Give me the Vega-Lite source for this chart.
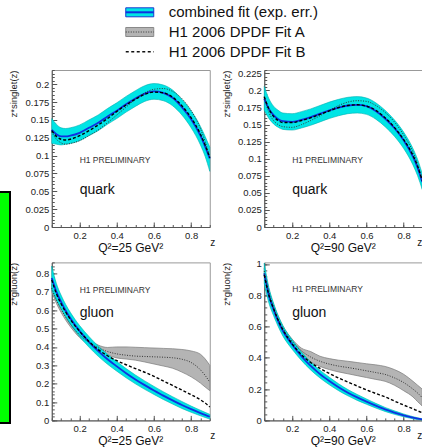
{
"$schema": "https://vega.github.io/schema/vega-lite/v6.json",
"padding": {"left": -3, "top": 0, "right": 0, "bottom": 0},
"background": "white",
"config": {
  "font": "Liberation Sans",
  "view": {"stroke": "#999", "strokeWidth": 1},
  "axis": {"labelFont": "Liberation Sans", "labelFontSize": 9.5, "labelColor": "#222", "titleFont": "Liberation Sans", "titleFontWeight": "normal", "titleColor": "#222", "titleFontSize": 9.5, "domainColor": "#555", "tickColor": "#555", "grid": false, "tickSize": -5, "labelPadding": 8, "labelFlush": false, "labelBound": false, "labelOverlap": false},
  "title": {"font": "Liberation Sans", "fontWeight": "normal", "color": "#111"}
},
"datasets": {
  "legend": [
    {"series": "combined fit (exp. err.)"},
    {"series": "H1 2006 DPDF Fit A"},
    {"series": "H1 2006 DPDF Fit B"}
  ],
  "curves": [
    {"p":"q25","z":0.05,"c":0.136,"lo":0.117,"hi":0.152,"a":0.133,"b":0.135},
    {"p":"q25","z":0.075,"c":0.130,"lo":0.116,"hi":0.144,"a":0.123,"b":0.127},
    {"p":"q25","z":0.1,"c":0.127,"lo":0.115,"hi":0.139,"a":0.118,"b":0.123},
    {"p":"q25","z":0.125,"c":0.127,"lo":0.116,"hi":0.138,"a":0.116,"b":0.122},
    {"p":"q25","z":0.15,"c":0.128,"lo":0.117,"hi":0.139,"a":0.117,"b":0.123},
    {"p":"q25","z":0.2,"c":0.132,"lo":0.121,"hi":0.143,"a":0.121,"b":0.128},
    {"p":"q25","z":0.25,"c":0.139,"lo":0.128,"hi":0.150,"a":0.128,"b":0.135},
    {"p":"q25","z":0.3,"c":0.146,"lo":0.135,"hi":0.157,"a":0.136,"b":0.143},
    {"p":"q25","z":0.35,"c":0.155,"lo":0.144,"hi":0.166,"a":0.146,"b":0.152},
    {"p":"q25","z":0.4,"c":0.163,"lo":0.152,"hi":0.174,"a":0.157,"b":0.162},
    {"p":"q25","z":0.45,"c":0.172,"lo":0.161,"hi":0.183,"a":0.168,"b":0.171},
    {"p":"q25","z":0.5,"c":0.180,"lo":0.169,"hi":0.191,"a":0.179,"b":0.179},
    {"p":"q25","z":0.55,"c":0.187,"lo":0.176,"hi":0.198,"a":0.188,"b":0.186},
    {"p":"q25","z":0.6,"c":0.190,"lo":0.179,"hi":0.201,"a":0.193,"b":0.189},
    {"p":"q25","z":0.65,"c":0.188,"lo":0.177,"hi":0.199,"a":0.194,"b":0.188},
    {"p":"q25","z":0.7,"c":0.181,"lo":0.170,"hi":0.192,"a":0.190,"b":0.182},
    {"p":"q25","z":0.75,"c":0.168,"lo":0.157,"hi":0.179,"a":0.180,"b":0.170},
    {"p":"q25","z":0.8,"c":0.151,"lo":0.139,"hi":0.163,"a":0.163,"b":0.153},
    {"p":"q25","z":0.85,"c":0.128,"lo":0.115,"hi":0.141,"a":0.138,"b":0.130},
    {"p":"q25","z":0.875,"c":0.113,"lo":0.099,"hi":0.127,"a":0.120,"b":0.115},
    {"p":"q25","z":0.9,"c":0.096,"lo":0.078,"hi":0.112,"a":0.098,"b":0.097},

    {"p":"q90","z":0.05,"c":0.188,"lo":0.171,"hi":0.206,"a":0.190,"b":0.191},
    {"p":"q90","z":0.075,"c":0.173,"lo":0.159,"hi":0.188,"a":0.168,"b":0.173},
    {"p":"q90","z":0.1,"c":0.164,"lo":0.151,"hi":0.177,"a":0.156,"b":0.162},
    {"p":"q90","z":0.125,"c":0.158,"lo":0.146,"hi":0.171,"a":0.150,"b":0.156},
    {"p":"q90","z":0.15,"c":0.155,"lo":0.143,"hi":0.167,"a":0.147,"b":0.153},
    {"p":"q90","z":0.2,"c":0.154,"lo":0.142,"hi":0.166,"a":0.146,"b":0.153},
    {"p":"q90","z":0.25,"c":0.157,"lo":0.145,"hi":0.169,"a":0.150,"b":0.156},
    {"p":"q90","z":0.3,"c":0.161,"lo":0.149,"hi":0.173,"a":0.156,"b":0.160},
    {"p":"q90","z":0.35,"c":0.166,"lo":0.154,"hi":0.178,"a":0.163,"b":0.165},
    {"p":"q90","z":0.4,"c":0.171,"lo":0.159,"hi":0.183,"a":0.171,"b":0.170},
    {"p":"q90","z":0.45,"c":0.175,"lo":0.163,"hi":0.187,"a":0.178,"b":0.175},
    {"p":"q90","z":0.5,"c":0.178,"lo":0.166,"hi":0.190,"a":0.183,"b":0.178},
    {"p":"q90","z":0.55,"c":0.179,"lo":0.167,"hi":0.191,"a":0.185,"b":0.179},
    {"p":"q90","z":0.6,"c":0.177,"lo":0.165,"hi":0.189,"a":0.184,"b":0.177},
    {"p":"q90","z":0.65,"c":0.170,"lo":0.158,"hi":0.182,"a":0.178,"b":0.171},
    {"p":"q90","z":0.7,"c":0.159,"lo":0.147,"hi":0.171,"a":0.168,"b":0.160},
    {"p":"q90","z":0.75,"c":0.145,"lo":0.133,"hi":0.157,"a":0.154,"b":0.146},
    {"p":"q90","z":0.8,"c":0.127,"lo":0.115,"hi":0.139,"a":0.135,"b":0.128},
    {"p":"q90","z":0.85,"c":0.103,"lo":0.091,"hi":0.115,"a":0.110,"b":0.105},
    {"p":"q90","z":0.875,"c":0.087,"lo":0.075,"hi":0.099,"a":0.092,"b":0.089},
    {"p":"q90","z":0.9,"c":0.066,"lo":0.055,"hi":0.078,"a":0.070,"b":0.068},

    {"p":"g25","z":0.05,"c":0.775,"lo":0.71,"hi":0.84,"a":0.72,"alo":0.70,"ahi":0.74,"b":0.765},
    {"p":"g25","z":0.075,"c":0.700,"lo":0.655,"hi":0.745,"a":0.655,"alo":0.637,"ahi":0.673,"b":0.690},
    {"p":"g25","z":0.1,"c":0.645,"lo":0.608,"hi":0.682,"a":0.605,"alo":0.588,"ahi":0.622,"b":0.635},
    {"p":"g25","z":0.125,"c":0.597,"lo":0.563,"hi":0.631,"a":0.562,"alo":0.546,"ahi":0.578,"b":0.590},
    {"p":"g25","z":0.15,"c":0.556,"lo":0.524,"hi":0.588,"a":0.525,"alo":0.510,"ahi":0.540,"b":0.550},
    {"p":"g25","z":0.2,"c":0.486,"lo":0.456,"hi":0.516,"a":0.465,"alo":0.451,"ahi":0.479,"b":0.485},
    {"p":"g25","z":0.25,"c":0.428,"lo":0.399,"hi":0.457,"a":0.425,"alo":0.412,"ahi":0.438,"b":0.430},
    {"p":"g25","z":0.3,"c":0.377,"lo":0.349,"hi":0.405,"a":0.395,"alo":0.380,"ahi":0.410,"b":0.385},
    {"p":"g25","z":0.35,"c":0.333,"lo":0.306,"hi":0.360,"a":0.375,"alo":0.356,"ahi":0.397,"b":0.352},
    {"p":"g25","z":0.4,"c":0.294,"lo":0.268,"hi":0.320,"a":0.362,"alo":0.340,"ahi":0.400,"b":0.325},
    {"p":"g25","z":0.45,"c":0.257,"lo":0.232,"hi":0.282,"a":0.355,"alo":0.334,"ahi":0.400,"b":0.303},
    {"p":"g25","z":0.5,"c":0.223,"lo":0.199,"hi":0.247,"a":0.350,"alo":0.328,"ahi":0.398,"b":0.282},
    {"p":"g25","z":0.55,"c":0.192,"lo":0.169,"hi":0.215,"a":0.348,"alo":0.318,"ahi":0.396,"b":0.262},
    {"p":"g25","z":0.6,"c":0.163,"lo":0.141,"hi":0.185,"a":0.346,"alo":0.307,"ahi":0.394,"b":0.240},
    {"p":"g25","z":0.65,"c":0.135,"lo":0.114,"hi":0.156,"a":0.344,"alo":0.296,"ahi":0.392,"b":0.215},
    {"p":"g25","z":0.7,"c":0.109,"lo":0.089,"hi":0.129,"a":0.341,"alo":0.284,"ahi":0.390,"b":0.190},
    {"p":"g25","z":0.75,"c":0.084,"lo":0.065,"hi":0.103,"a":0.333,"alo":0.263,"ahi":0.386,"b":0.165},
    {"p":"g25","z":0.8,"c":0.061,"lo":0.044,"hi":0.078,"a":0.315,"alo":0.237,"ahi":0.378,"b":0.140},
    {"p":"g25","z":0.85,"c":0.040,"lo":0.025,"hi":0.055,"a":0.275,"alo":0.203,"ahi":0.360,"b":0.112},
    {"p":"g25","z":0.875,"c":0.030,"lo":0.016,"hi":0.044,"a":0.245,"alo":0.182,"ahi":0.335,"b":0.095},
    {"p":"g25","z":0.9,"c":0.020,"lo":0.007,"hi":0.033,"a":0.208,"alo":0.162,"ahi":0.300,"b":0.073},

    {"p":"g90","z":0.05,"c":0.940,"lo":0.875,"hi":1.005,"a":0.955,"alo":0.935,"ahi":0.975,"b":0.930},
    {"p":"g90","z":0.075,"c":0.800,"lo":0.750,"hi":0.850,"a":0.820,"alo":0.802,"ahi":0.838,"b":0.800},
    {"p":"g90","z":0.1,"c":0.710,"lo":0.670,"hi":0.750,"a":0.725,"alo":0.708,"ahi":0.742,"b":0.715},
    {"p":"g90","z":0.125,"c":0.635,"lo":0.600,"hi":0.670,"a":0.650,"alo":0.634,"ahi":0.666,"b":0.640},
    {"p":"g90","z":0.15,"c":0.573,"lo":0.540,"hi":0.606,"a":0.590,"alo":0.575,"ahi":0.605,"b":0.580},
    {"p":"g90","z":0.2,"c":0.485,"lo":0.455,"hi":0.515,"a":0.505,"alo":0.490,"ahi":0.520,"b":0.490},
    {"p":"g90","z":0.25,"c":0.410,"lo":0.383,"hi":0.437,"a":0.445,"alo":0.428,"ahi":0.462,"b":0.420},
    {"p":"g90","z":0.3,"c":0.348,"lo":0.322,"hi":0.374,"a":0.405,"alo":0.375,"ahi":0.440,"b":0.370},
    {"p":"g90","z":0.35,"c":0.296,"lo":0.271,"hi":0.321,"a":0.378,"alo":0.345,"ahi":0.410,"b":0.332},
    {"p":"g90","z":0.4,"c":0.252,"lo":0.228,"hi":0.276,"a":0.360,"alo":0.325,"ahi":0.395,"b":0.300},
    {"p":"g90","z":0.45,"c":0.212,"lo":0.190,"hi":0.234,"a":0.347,"alo":0.310,"ahi":0.385,"b":0.271},
    {"p":"g90","z":0.5,"c":0.177,"lo":0.157,"hi":0.197,"a":0.338,"alo":0.298,"ahi":0.378,"b":0.245},
    {"p":"g90","z":0.55,"c":0.147,"lo":0.128,"hi":0.166,"a":0.328,"alo":0.286,"ahi":0.370,"b":0.220},
    {"p":"g90","z":0.6,"c":0.120,"lo":0.103,"hi":0.137,"a":0.317,"alo":0.274,"ahi":0.362,"b":0.195},
    {"p":"g90","z":0.65,"c":0.094,"lo":0.079,"hi":0.109,"a":0.306,"alo":0.262,"ahi":0.355,"b":0.172},
    {"p":"g90","z":0.7,"c":0.070,"lo":0.057,"hi":0.083,"a":0.294,"alo":0.250,"ahi":0.345,"b":0.150},
    {"p":"g90","z":0.75,"c":0.050,"lo":0.039,"hi":0.061,"a":0.272,"alo":0.225,"ahi":0.325,"b":0.124},
    {"p":"g90","z":0.8,"c":0.032,"lo":0.023,"hi":0.041,"a":0.242,"alo":0.190,"ahi":0.295,"b":0.098},
    {"p":"g90","z":0.85,"c":0.017,"lo":0.010,"hi":0.024,"a":0.200,"alo":0.150,"ahi":0.250,"b":0.074},
    {"p":"g90","z":0.875,"c":0.011,"lo":0.005,"hi":0.017,"a":0.175,"alo":0.120,"ahi":0.225,"b":0.061},
    {"p":"g90","z":0.9,"c":0.006,"lo":0.002,"hi":0.010,"a":0.145,"alo":0.092,"ahi":0.200,"b":0.049}
  ]
},
"spacing": -3.25,
"hconcat": [
  {
    "spacing": 0,
    "vconcat": [
      {"width": 12, "height": 191, "view": {"stroke": null}, "data": {"values": []}, "mark": "point", "encoding": {}},
      {"width": 12, "height": 231, "view": {"stroke": null}, "data": {"values": [{"box": "frame"}]}, "mark": {"type": "rect", "fill": "#00ff00", "stroke": "#000000", "strokeWidth": 2}, "encoding": {}}
    ]
  },
  {
    "spacing": 3,
    "vconcat": [
      {
        "width": 400, "height": 64,
        "view": {"stroke": null},
        "data": {"name": "legend"},
        "layer": [
          {"transform": [{"filter": "datum.series == 'combined fit (exp. err.)'"}],
           "mark": {"type": "rect", "fill": "#00e5e5", "stroke": "#1a3ad0", "strokeWidth": 1},
           "encoding": {
             "x": {"datum": 0.185, "type": "quantitative", "scale": {"domain": [0, 1]}, "axis": null},
             "x2": {"datum": 0.255},
             "y": {"field": "series", "type": "nominal", "sort": null, "scale": {"type": "band", "domain": ["combined fit (exp. err.)", "H1 2006 DPDF Fit A", "H1 2006 DPDF Fit B"], "paddingInner": 0.543, "paddingOuter": 0.396}, "axis": null}}},
          {"transform": [{"filter": "datum.series == 'combined fit (exp. err.)'"}],
           "mark": {"type": "rule", "stroke": "#1030e0", "strokeWidth": 2},
           "encoding": {
             "x": {"datum": 0.185, "type": "quantitative", "scale": {"domain": [0, 1]}, "axis": null},
             "x2": {"datum": 0.255},
             "y": {"field": "series", "type": "nominal", "sort": null, "axis": null}}},
          {"transform": [{"filter": "datum.series == 'H1 2006 DPDF Fit A'"}],
           "mark": {"type": "rect", "fill": "#b4b4b4", "stroke": "#888888", "strokeWidth": 1},
           "encoding": {
             "x": {"datum": 0.185, "type": "quantitative", "scale": {"domain": [0, 1]}, "axis": null},
             "x2": {"datum": 0.255},
             "y": {"field": "series", "type": "nominal", "sort": null, "axis": null}}},
          {"transform": [{"filter": "datum.series == 'H1 2006 DPDF Fit A'"}],
           "mark": {"type": "rule", "stroke": "#333333", "strokeWidth": 1, "strokeDash": [1, 1.5]},
           "encoding": {
             "x": {"datum": 0.185, "type": "quantitative", "scale": {"domain": [0, 1]}, "axis": null},
             "x2": {"datum": 0.255},
             "y": {"field": "series", "type": "nominal", "sort": null, "axis": null}}},
          {"transform": [{"filter": "datum.series == 'H1 2006 DPDF Fit B'"}],
           "mark": {"type": "rule", "stroke": "#111111", "strokeWidth": 1.4, "strokeDash": [3, 2.5]},
           "encoding": {
             "x": {"datum": 0.185, "type": "quantitative", "scale": {"domain": [0, 1]}, "axis": null},
             "x2": {"datum": 0.255},
             "y": {"field": "series", "type": "nominal", "sort": null, "axis": null}}},
          {"mark": {"type": "text", "align": "left", "baseline": "middle", "fontSize": 15, "color": "#111"},
           "encoding": {
             "x": {"datum": 0.2925, "type": "quantitative", "scale": {"domain": [0, 1]}, "axis": null},
             "y": {"field": "series", "type": "nominal", "sort": null, "axis": null},
             "text": {"field": "series"}}}
        ]
      },
      {
        "columns": 2,
        "bounds": "flush",
        "spacing": {"row": 35.4, "column": 54.5},
        "concat": [
          {
            "width": 158, "height": 157,
            "title": {"text": "Q²=25 GeV²", "orient": "bottom", "frame": "group", "offset": -4, "fontSize": 12, "anchor": "middle"},
            "data": {"name": "curves"},
            "transform": [{"filter": "datum.p == 'q25'"}],
            "layer": [
              {"mark": {"type": "area", "fill": "#00e5e5", "stroke": "#00b0b0", "strokeWidth": 0.6, "interpolate": "monotone"},
               "encoding": {
                 "x": {"field": "z", "type": "quantitative", "scale": {"domain": [0.05, 0.9], "nice": false, "zero": false}, "axis": {"orient": "bottom", "values": [0.2, 0.4, 0.6, 0.8], "format": ".3~g", "title": "z", "titleX": 160.5, "titleY": 15, "titleAlign": "center", "titleBaseline": "middle", "titleFontSize": 10}},
                 "y": {"field": "lo", "type": "quantitative", "scale": {"domain": [0, 0.22], "nice": false}, "axis": {"orient": "left", "values": [0, 0.025, 0.05, 0.075, 0.1, 0.125, 0.15, 0.175, 0.2], "format": ".3~g", "title": "z*singlet(z)", "titleX": -38, "titleY": 0, "titleAlign": "right", "titleAngle": -90, "titleBaseline": "middle"}},
                 "y2": {"field": "hi"}}},
              {"mark": {"type": "line", "stroke": "#1030e0", "strokeWidth": 1.8, "interpolate": "monotone"},
               "encoding": {
                 "x": {"field": "z", "type": "quantitative", "scale": {"domain": [0.05, 0.9], "nice": false, "zero": false}, "axis": {"orient": "bottom", "values": [0.05,0.1,0.15,0.2,0.25,0.3,0.35,0.4,0.45,0.5,0.55,0.6,0.65,0.7,0.75,0.8,0.85,0.9], "labels": false, "domain": false, "tickSize": -2.5, "title": null}},
                 "y": {"field": "c", "type": "quantitative", "scale": {"domain": [0, 0.22], "nice": false}, "axis": {"orient": "left", "values": [0,0.005,0.01,0.015,0.02,0.025,0.03,0.035,0.04,0.045,0.05,0.055,0.06,0.065,0.07,0.075,0.08,0.085,0.09,0.095,0.1,0.105,0.11,0.115,0.12,0.125,0.13,0.135,0.14,0.145,0.15,0.155,0.16,0.165,0.17,0.175,0.18,0.185,0.19,0.195,0.2,0.205,0.21,0.215,0.22], "labels": false, "domain": false, "tickSize": -2.5, "title": null}}}},
              {"mark": {"type": "line", "stroke": "#333333", "strokeWidth": 1, "strokeDash": [1, 1.5], "interpolate": "monotone"},
               "encoding": {
                 "x": {"field": "z", "type": "quantitative", "scale": {"domain": [0.05, 0.9], "nice": false, "zero": false}, "axis": null},
                 "y": {"field": "a", "type": "quantitative", "scale": {"domain": [0, 0.22], "nice": false}, "axis": null}}},
              {"mark": {"type": "line", "stroke": "#000000", "strokeWidth": 1.4, "strokeDash": [3, 2], "interpolate": "monotone"},
               "encoding": {
                 "x": {"field": "z", "type": "quantitative", "scale": {"domain": [0.05, 0.9], "nice": false, "zero": false}, "axis": null},
                 "y": {"field": "b", "type": "quantitative", "scale": {"domain": [0, 0.22], "nice": false}, "axis": null}}},
              {"data": {"values": [{"t": "H1 PRELIMINARY"}]},
               "mark": {"type": "text", "align": "left", "baseline": "middle", "fontSize": 8.5, "color": "#333"},
               "encoding": {
                 "x": {"datum": 0.2, "type": "quantitative", "scale": {"domain": [0.05, 0.9], "nice": false, "zero": false}, "axis": null},
                 "y": {"datum": 0.094, "type": "quantitative", "scale": {"domain": [0, 0.22], "nice": false}, "axis": null},
                 "text": {"field": "t"}}},
              {"data": {"values": [{"t": "quark"}]},
               "mark": {"type": "text", "align": "left", "baseline": "middle", "fontSize": 14, "color": "#111"},
               "encoding": {
                 "x": {"datum": 0.2, "type": "quantitative", "scale": {"domain": [0.05, 0.9], "nice": false, "zero": false}, "axis": null},
                 "y": {"datum": 0.052, "type": "quantitative", "scale": {"domain": [0, 0.22], "nice": false}, "axis": null},
                 "text": {"field": "t"}}}
            ],
            "resolve": {"axis": {"x": "independent", "y": "independent"}}
          },
          {
            "width": 158, "height": 157,
            "title": {"text": "Q²=90 GeV²", "orient": "bottom", "frame": "group", "offset": -4, "fontSize": 12, "anchor": "middle"},
            "data": {"name": "curves"},
            "transform": [{"filter": "datum.p == 'q90'"}],
            "layer": [
              {"mark": {"type": "area", "fill": "#00e5e5", "stroke": "#00b0b0", "strokeWidth": 0.6, "interpolate": "monotone"},
               "encoding": {
                 "x": {"field": "z", "type": "quantitative", "scale": {"domain": [0.05, 0.9], "nice": false, "zero": false}, "axis": {"orient": "bottom", "values": [0.2, 0.4, 0.6, 0.8], "format": ".3~g", "title": "z", "titleX": 155, "titleY": 15, "titleAlign": "center", "titleBaseline": "middle", "titleFontSize": 10}},
                 "y": {"field": "lo", "type": "quantitative", "scale": {"domain": [0, 0.23], "nice": false}, "axis": {"orient": "left", "values": [0, 0.025, 0.05, 0.075, 0.1, 0.125, 0.15, 0.175, 0.2, 0.225], "format": ".3~g", "title": "z*singlet(z)", "titleX": -38, "titleY": 0, "titleAlign": "right", "titleAngle": -90, "titleBaseline": "middle"}},
                 "y2": {"field": "hi"}}},
              {"mark": {"type": "line", "stroke": "#1030e0", "strokeWidth": 1.8, "interpolate": "monotone"},
               "encoding": {
                 "x": {"field": "z", "type": "quantitative", "scale": {"domain": [0.05, 0.9], "nice": false, "zero": false}, "axis": {"orient": "bottom", "values": [0.05,0.1,0.15,0.2,0.25,0.3,0.35,0.4,0.45,0.5,0.55,0.6,0.65,0.7,0.75,0.8,0.85,0.9], "labels": false, "domain": false, "tickSize": -2.5, "title": null}},
                 "y": {"field": "c", "type": "quantitative", "scale": {"domain": [0, 0.23], "nice": false}, "axis": {"orient": "left", "values": [0,0.005,0.01,0.015,0.02,0.025,0.03,0.035,0.04,0.045,0.05,0.055,0.06,0.065,0.07,0.075,0.08,0.085,0.09,0.095,0.1,0.105,0.11,0.115,0.12,0.125,0.13,0.135,0.14,0.145,0.15,0.155,0.16,0.165,0.17,0.175,0.18,0.185,0.19,0.195,0.2,0.205,0.21,0.215,0.22,0.225,0.23], "labels": false, "domain": false, "tickSize": -2.5, "title": null}}}},
              {"mark": {"type": "line", "stroke": "#333333", "strokeWidth": 1, "strokeDash": [1, 1.5], "interpolate": "monotone"},
               "encoding": {
                 "x": {"field": "z", "type": "quantitative", "scale": {"domain": [0.05, 0.9], "nice": false, "zero": false}, "axis": null},
                 "y": {"field": "a", "type": "quantitative", "scale": {"domain": [0, 0.23], "nice": false}, "axis": null}}},
              {"mark": {"type": "line", "stroke": "#000000", "strokeWidth": 1.4, "strokeDash": [3, 2], "interpolate": "monotone"},
               "encoding": {
                 "x": {"field": "z", "type": "quantitative", "scale": {"domain": [0.05, 0.9], "nice": false, "zero": false}, "axis": null},
                 "y": {"field": "b", "type": "quantitative", "scale": {"domain": [0, 0.23], "nice": false}, "axis": null}}},
              {"data": {"values": [{"t": "H1 PRELIMINARY"}]},
               "mark": {"type": "text", "align": "left", "baseline": "middle", "fontSize": 8.5, "color": "#333"},
               "encoding": {
                 "x": {"datum": 0.2, "type": "quantitative", "scale": {"domain": [0.05, 0.9], "nice": false, "zero": false}, "axis": null},
                 "y": {"datum": 0.098, "type": "quantitative", "scale": {"domain": [0, 0.23], "nice": false}, "axis": null},
                 "text": {"field": "t"}}},
              {"data": {"values": [{"t": "quark"}]},
               "mark": {"type": "text", "align": "left", "baseline": "middle", "fontSize": 14, "color": "#111"},
               "encoding": {
                 "x": {"datum": 0.2, "type": "quantitative", "scale": {"domain": [0.05, 0.9], "nice": false, "zero": false}, "axis": null},
                 "y": {"datum": 0.054, "type": "quantitative", "scale": {"domain": [0, 0.23], "nice": false}, "axis": null},
                 "text": {"field": "t"}}}
            ],
            "resolve": {"axis": {"x": "independent", "y": "independent"}}
          },
          {
            "width": 158, "height": 158,
            "title": {"text": "Q²=25 GeV²", "orient": "bottom", "frame": "group", "offset": -4, "fontSize": 12, "anchor": "middle"},
            "data": {"name": "curves"},
            "transform": [{"filter": "datum.p == 'g25'"}],
            "layer": [
              {"mark": {"type": "area", "fill": "#b4b4b4", "stroke": "#7a7a7a", "strokeWidth": 0.7, "interpolate": "monotone"},
               "encoding": {
                 "x": {"field": "z", "type": "quantitative", "scale": {"domain": [0.05, 0.9], "nice": false, "zero": false}, "axis": null},
                 "y": {"field": "alo", "type": "quantitative", "scale": {"domain": [0, 0.86], "nice": false}, "axis": null},
                 "y2": {"field": "ahi"}}},
              {"mark": {"type": "area", "fill": "#00e5e5", "stroke": "#00b0b0", "strokeWidth": 0.6, "interpolate": "monotone"},
               "encoding": {
                 "x": {"field": "z", "type": "quantitative", "scale": {"domain": [0.05, 0.9], "nice": false, "zero": false}, "axis": {"orient": "bottom", "values": [0.2, 0.4, 0.6, 0.8], "format": ".3~g", "title": "z", "titleX": 160.5, "titleY": 15, "titleAlign": "center", "titleBaseline": "middle", "titleFontSize": 10}},
                 "y": {"field": "lo", "type": "quantitative", "scale": {"domain": [0, 0.86], "nice": false}, "axis": {"orient": "left", "values": [0, 0.1, 0.2, 0.3, 0.4, 0.5, 0.6, 0.7, 0.8], "format": ".3~g", "title": "z*gluon(z)", "titleX": -38, "titleY": 0, "titleAlign": "right", "titleAngle": -90, "titleBaseline": "middle"}},
                 "y2": {"field": "hi"}}},
              {"mark": {"type": "line", "stroke": "#1030e0", "strokeWidth": 1.8, "interpolate": "monotone"},
               "encoding": {
                 "x": {"field": "z", "type": "quantitative", "scale": {"domain": [0.05, 0.9], "nice": false, "zero": false}, "axis": {"orient": "bottom", "values": [0.05,0.1,0.15,0.2,0.25,0.3,0.35,0.4,0.45,0.5,0.55,0.6,0.65,0.7,0.75,0.8,0.85,0.9], "labels": false, "domain": false, "tickSize": -2.5, "title": null}},
                 "y": {"field": "c", "type": "quantitative", "scale": {"domain": [0, 0.86], "nice": false}, "axis": {"orient": "left", "values": [0,0.02,0.04,0.06,0.08,0.1,0.12,0.14,0.16,0.18,0.2,0.22,0.24,0.26,0.28,0.3,0.32,0.34,0.36,0.38,0.4,0.42,0.44,0.46,0.48,0.5,0.52,0.54,0.56,0.58,0.6,0.62,0.64,0.66,0.68,0.7,0.72,0.74,0.76,0.78,0.8,0.82,0.84,0.86], "labels": false, "domain": false, "tickSize": -2.5, "title": null}}}},
              {"mark": {"type": "line", "stroke": "#333333", "strokeWidth": 1, "strokeDash": [1, 1.5], "interpolate": "monotone"},
               "encoding": {
                 "x": {"field": "z", "type": "quantitative", "scale": {"domain": [0.05, 0.9], "nice": false, "zero": false}, "axis": null},
                 "y": {"field": "a", "type": "quantitative", "scale": {"domain": [0, 0.86], "nice": false}, "axis": null}}},
              {"mark": {"type": "line", "stroke": "#000000", "strokeWidth": 1.4, "strokeDash": [3, 2], "interpolate": "monotone"},
               "encoding": {
                 "x": {"field": "z", "type": "quantitative", "scale": {"domain": [0.05, 0.9], "nice": false, "zero": false}, "axis": null},
                 "y": {"field": "b", "type": "quantitative", "scale": {"domain": [0, 0.86], "nice": false}, "axis": null}}},
              {"data": {"values": [{"t": "H1 PRELIMINARY"}]},
               "mark": {"type": "text", "align": "left", "baseline": "middle", "fontSize": 8.5, "color": "#333"},
               "encoding": {
                 "x": {"datum": 0.2, "type": "quantitative", "scale": {"domain": [0.05, 0.9], "nice": false, "zero": false}, "axis": null},
                 "y": {"datum": 0.712, "type": "quantitative", "scale": {"domain": [0, 0.86], "nice": false}, "axis": null},
                 "text": {"field": "t"}}},
              {"data": {"values": [{"t": "gluon"}]},
               "mark": {"type": "text", "align": "left", "baseline": "middle", "fontSize": 14, "color": "#111"},
               "encoding": {
                 "x": {"datum": 0.2, "type": "quantitative", "scale": {"domain": [0.05, 0.9], "nice": false, "zero": false}, "axis": null},
                 "y": {"datum": 0.582, "type": "quantitative", "scale": {"domain": [0, 0.86], "nice": false}, "axis": null},
                 "text": {"field": "t"}}}
            ],
            "resolve": {"axis": {"x": "independent", "y": "independent"}}
          },
          {
            "width": 158, "height": 158,
            "title": {"text": "Q²=90 GeV²", "orient": "bottom", "frame": "group", "offset": -4, "fontSize": 12, "anchor": "middle"},
            "data": {"name": "curves"},
            "transform": [{"filter": "datum.p == 'g90'"}],
            "layer": [
              {"mark": {"type": "area", "fill": "#b4b4b4", "stroke": "#7a7a7a", "strokeWidth": 0.7, "interpolate": "monotone"},
               "encoding": {
                 "x": {"field": "z", "type": "quantitative", "scale": {"domain": [0.05, 0.9], "nice": false, "zero": false}, "axis": null},
                 "y": {"field": "alo", "type": "quantitative", "scale": {"domain": [0, 1.01], "nice": false}, "axis": null},
                 "y2": {"field": "ahi"}}},
              {"mark": {"type": "area", "fill": "#00e5e5", "stroke": "#00b0b0", "strokeWidth": 0.6, "interpolate": "monotone"},
               "encoding": {
                 "x": {"field": "z", "type": "quantitative", "scale": {"domain": [0.05, 0.9], "nice": false, "zero": false}, "axis": {"orient": "bottom", "values": [0.2, 0.4, 0.6, 0.8], "format": ".3~g", "title": "z", "titleX": 155, "titleY": 15, "titleAlign": "center", "titleBaseline": "middle", "titleFontSize": 10}},
                 "y": {"field": "lo", "type": "quantitative", "scale": {"domain": [0, 1.01], "nice": false}, "axis": {"orient": "left", "values": [0, 0.2, 0.4, 0.6, 0.8, 1], "format": ".3~g", "title": "z*gluon(z)", "titleX": -38, "titleY": 0, "titleAlign": "right", "titleAngle": -90, "titleBaseline": "middle"}},
                 "y2": {"field": "hi"}}},
              {"mark": {"type": "line", "stroke": "#1030e0", "strokeWidth": 1.8, "interpolate": "monotone"},
               "encoding": {
                 "x": {"field": "z", "type": "quantitative", "scale": {"domain": [0.05, 0.9], "nice": false, "zero": false}, "axis": {"orient": "bottom", "values": [0.05,0.1,0.15,0.2,0.25,0.3,0.35,0.4,0.45,0.5,0.55,0.6,0.65,0.7,0.75,0.8,0.85,0.9], "labels": false, "domain": false, "tickSize": -2.5, "title": null}},
                 "y": {"field": "c", "type": "quantitative", "scale": {"domain": [0, 1.01], "nice": false}, "axis": {"orient": "left", "values": [0,0.04,0.08,0.12,0.16,0.2,0.24,0.28,0.32,0.36,0.4,0.44,0.48,0.52,0.56,0.6,0.64,0.68,0.72,0.76,0.8,0.84,0.88,0.92,0.96,1], "labels": false, "domain": false, "tickSize": -2.5, "title": null}}}},
              {"mark": {"type": "line", "stroke": "#333333", "strokeWidth": 1, "strokeDash": [1, 1.5], "interpolate": "monotone"},
               "encoding": {
                 "x": {"field": "z", "type": "quantitative", "scale": {"domain": [0.05, 0.9], "nice": false, "zero": false}, "axis": null},
                 "y": {"field": "a", "type": "quantitative", "scale": {"domain": [0, 1.01], "nice": false}, "axis": null}}},
              {"mark": {"type": "line", "stroke": "#000000", "strokeWidth": 1.4, "strokeDash": [3, 2], "interpolate": "monotone"},
               "encoding": {
                 "x": {"field": "z", "type": "quantitative", "scale": {"domain": [0.05, 0.9], "nice": false, "zero": false}, "axis": null},
                 "y": {"field": "b", "type": "quantitative", "scale": {"domain": [0, 1.01], "nice": false}, "axis": null}}},
              {"data": {"values": [{"t": "H1 PRELIMINARY"}]},
               "mark": {"type": "text", "align": "left", "baseline": "middle", "fontSize": 8.5, "color": "#333"},
               "encoding": {
                 "x": {"datum": 0.2, "type": "quantitative", "scale": {"domain": [0.05, 0.9], "nice": false, "zero": false}, "axis": null},
                 "y": {"datum": 0.84, "type": "quantitative", "scale": {"domain": [0, 1.01], "nice": false}, "axis": null},
                 "text": {"field": "t"}}},
              {"data": {"values": [{"t": "gluon"}]},
               "mark": {"type": "text", "align": "left", "baseline": "middle", "fontSize": 14, "color": "#111"},
               "encoding": {
                 "x": {"datum": 0.2, "type": "quantitative", "scale": {"domain": [0.05, 0.9], "nice": false, "zero": false}, "axis": null},
                 "y": {"datum": 0.688, "type": "quantitative", "scale": {"domain": [0, 1.01], "nice": false}, "axis": null},
                 "text": {"field": "t"}}}
            ],
            "resolve": {"axis": {"x": "independent", "y": "independent"}}
          }
        ]
      }
    ]
  }
]
}
